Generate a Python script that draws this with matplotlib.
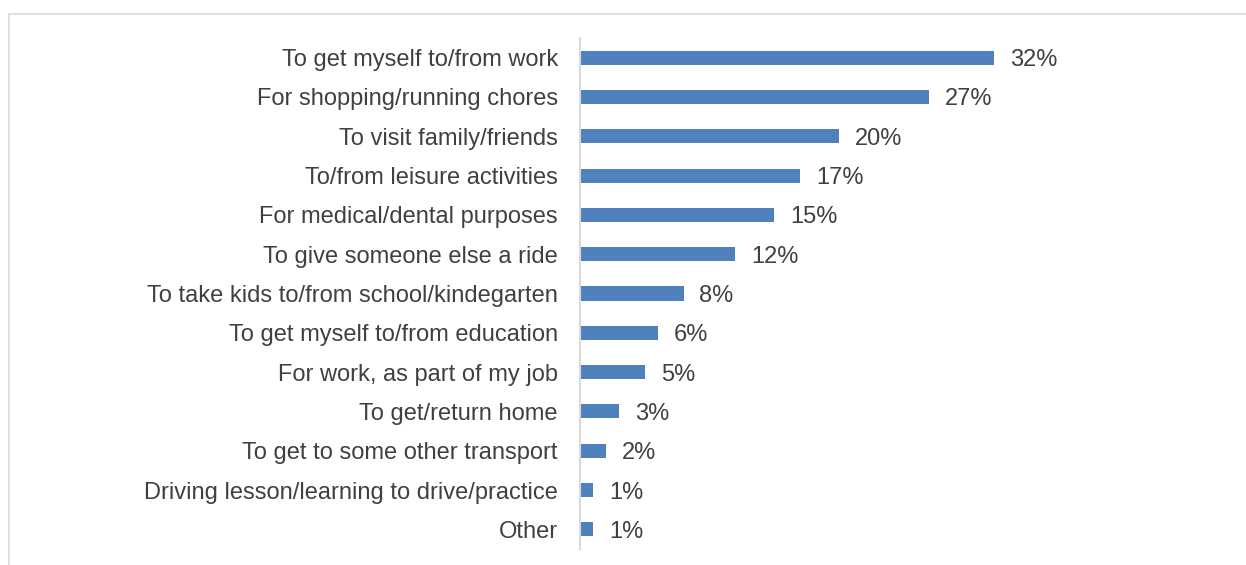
import matplotlib.pyplot as plt
from matplotlib.lines import Line2D

plt.rcParams['font.family'] = ['Liberation Sans', 'DejaVu Sans']

BAR_COLOR = '#4F81BD'
TEXT_COLOR = '#404040'
LINE_COLOR = '#D9D9D9'

purposes = [
    'To get myself to/from work',
    'For shopping/running chores',
    'To visit family/friends',
    'To/from leisure activities',
    'For medical/dental purposes',
    'To give someone else a ride',
    'To take kids to/from school/kindegarten',
    'To get myself to/from education',
    'For work, as part of my job',
    'To get/return home',
    'To get to some other transport',
    'Driving lesson/learning to drive/practice',
    'Other',
]
shares = [32, 27, 20, 17, 15, 12, 8, 6, 5, 3, 2, 1, 1]

W, H = 1246, 565
fig = plt.figure(figsize=(W / 100, H / 100), dpi=100)

# axes placed in pixel terms: value axis at x=580, 13 rows between y=38 and y=549
px_per_pct = 12.94
xmax = 40
left = 580 / W
width = xmax * px_per_pct / W
ax = fig.add_axes([left, (H - 549) / H, width, (549 - 38) / H])

pos = list(range(len(purposes)))
ax.barh(pos, shares, height=0.36, color=BAR_COLOR)
ax.set_ylim(len(purposes) - 0.5, -0.5)
ax.set_xlim(0, xmax)

for y, v in zip(pos, shares):
    ax.annotate(f'{v}%', xy=(v, y), xytext=(11.5, 0), textcoords='offset points',
                va='center_baseline', ha='left', fontsize=17, color=TEXT_COLOR)

ax.set_yticks(pos)
ax.set_yticklabels(purposes, fontsize=17, color=TEXT_COLOR, va='center_baseline')
ax.tick_params(axis='y', length=0, pad=16)
ax.set_xticks([])
for side in ['top', 'right', 'bottom']:
    ax.spines[side].set_visible(False)
ax.spines['left'].set_color(LINE_COLOR)
ax.spines['left'].set_linewidth(1.5)

# chart frame: top and left edges
fig.add_artist(Line2D([8.5 / W, 1], [1 - 13.5 / H, 1 - 13.5 / H], color=LINE_COLOR, lw=1.2,
                      transform=fig.transFigure))
fig.add_artist(Line2D([8.5 / W, 8.5 / W], [0, 1 - 13.5 / H], color=LINE_COLOR, lw=1.2,
                      transform=fig.transFigure))

fig.savefig('out.png', dpi=100)
